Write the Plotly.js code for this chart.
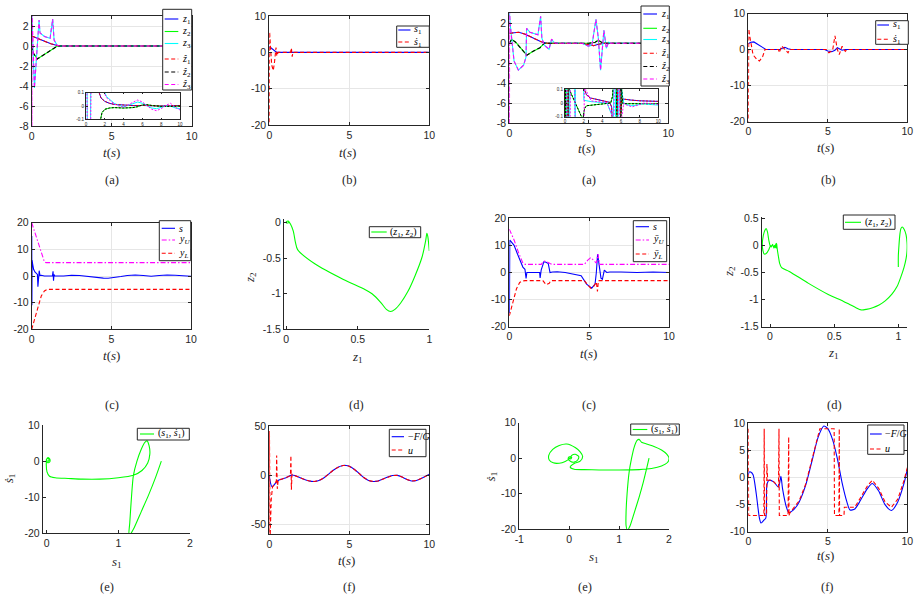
<!DOCTYPE html>
<html>
<head>
<meta charset="utf-8">
<script src="https://cdn.plot.ly/plotly-3.0.1.min.js"></script>
<style>
  html, body { margin: 0; padding: 0; background: #fff; }
  #fig { width: 920px; height: 602px; }
</style>
</head>
<body>
<div id="fig"></div>
<script>
// ===================== data =====================
// tick labels
const tT = [0, 5, 10], tTxt = ['0', '5', '10'];
const yA = [-8, -6, -4, -2, 0, 2], yATxt = ['-8', '-6', '-4', '-2', '0', '2'];
const yB = [-20, -10, 0, 10], yBTxt = ['-20', '-10', '0', '10'];
const yC = [-20, -10, 0, 10, 20], yCTxt = ['-20', '-10', '0', '10', '20'];
const xD = [0, 0.5, 1], xDTxt = ['0', '0.5', '1'];
const yD1 = [-1.5, -1, -0.5, 0], yD1Txt = ['-1.5', '-1', '-0.5', '0'];
const yD2 = [-1.5, -1, -0.5, 0, 0.5], yD2Txt = ['-1.5', '-1', '-0.5', '0', '0.5'];
const xE1 = [0, 1, 2], xE1Txt = ['0', '1', '2'];
const xE2 = [-1, 0, 1, 2], xE2Txt = ['-1', '0', '1', '2'];
const yF1 = [-50, 0, 50], yF1Txt = ['-50', '0', '50'];
const yF2 = [-10, -5, 0, 5, 10], yF2Txt = ['-10', '-5', '0', '5', '10'];
const xIn = [0, 2, 4, 6, 8, 10], xInTxt = ['0', '2', '4', '6', '8', '10'];
const yIn = [-0.1, 0, 0.1], yInTxt = ['-0.1', '0', '0.1'];

// series names (subscripts as small lowered spans)
const sb = function (s) { return '<span style="font-size:70%;baseline-shift:-22%">' + s + '</span>'; };
const namesA = ['<i>z</i>' + sb('1'), '<i>z</i>' + sb('2'), '<i>z</i>' + sb('3'),
                '<i>z\u0302</i>' + sb('1'), '<i>z\u0302</i>' + sb('2'), '<i>z\u0302</i>' + sb('3')];
const namesB = ['<i>s</i>' + sb('1'), '<i>s\u0307</i>' + sb('1')];
const namesC1 = ['<i>s</i>', '<i>y</i>' + sb('<i>U</i>'), '<i>y</i>' + sb('<i>L</i>')];
const namesC2 = ['<i>s</i>', '<i>y\u0304</i>' + sb('<i>U</i>'), '<i>y\u0304</i>' + sb('<i>L</i>')];
const nameD = '(<i>z</i>' + sb('1') + ', <i>z</i>' + sb('2') + ')';
const nameE = '(<i>s</i>' + sb('1') + ', <i>s\u0307</i>' + sb('1') + ')';
const namesF = ['\u2212<i>F</i>/<i>G</i>', '<i>u</i>'];
const titleT = '<i>t</i>(<i>s</i>)';
const titleZ1 = '<i>z</i>' + sb('1'), titleZ2 = '<i>z</i>' + sb('2');
const titleS1 = '<i>s</i>' + sb('1'), titleDS1 = '<i>s\u0307</i>' + sb('1');
const caps = ['(a)', '(b)', '(c)', '(d)', '(e)', '(f)'];

// ---- left figure (a): states z and estimates ----
const a1_t1 = [0, 0.4, 0.8, 1.2, 1.6, 1.8, 10];
const a1_z1 = [1.0, 0.75, 0.45, 0.22, 0.05, 0, 0];
const a1_t2 = [0, 0.1, 0.35, 0.8, 1.2, 1.56, 1.8, 10];
const a1_z2 = [0, -0.7, -1.3, -0.85, -0.45, -0.05, 0, 0];
const a1_t3 = [0, 0.17, 0.46, 0.52, 0.8, 1.15, 1.31, 1.4, 1.6, 1.8, 10];
const a1_z3 = [3.3, -4.2, 2.6, 1.3, 0.95, 0.77, 2.7, 0.6, 0.05, 0, 0];
const a1_th3 = [0, 0.01, 0.02, 0.17, 0.46, 0.52, 0.8, 1.15, 1.31, 1.4, 1.6, 1.8, 10];
const a1_h3 = [3.5, -8.5, 3.5, -4.2, 2.6, 1.3, 0.95, 0.77, 2.7, 0.6, 0.05, 0, 0];
// zoomed view
const i1_t1 = [1.3, 1.6, 2.0, 2.5, 3, 4, 5, 6, 7, 8, 9, 10];
const i1_z1 = [0.12, 0.06, 0.035, 0.02, 0.012, 0.006, 0.003, 0.004, 0.001, 0.0, 0.002, 0.003];
const i1_t2 = [1.5, 1.7, 2.0, 2.5, 3, 4, 5, 5.5, 6, 6.5, 7, 8, 9, 10];
const i1_z2 = [-0.12, -0.05, -0.025, -0.015, -0.012, -0.015, -0.012, -0.005, 0.008, 0.01, 0.004, -0.003, -0.004, 0];
const i1_t3 = [0.12, 0.14, 0.48, 0.5, 1.85, 2.2, 2.6, 3, 3.5, 4, 4.5, 5, 5.5, 6, 6.5, 7, 7.5, 8, 8.5, 9, 9.5, 10];
const i1_z3 = [0.12, -0.12, -0.12, 0.12, 0.12, 0.07, 0.045, 0.02, 0.005, -0.005, 0.005, 0.02, 0.03, 0.02, 0.0, -0.015, -0.02, -0.01, 0.0, 0.0, -0.015, -0.02];
const i1_th3 = [0.1, 0.13, 0.5, 0.53, 1.8, 2.2, 2.6, 3, 3.5, 4, 4.5, 5, 5.5, 6, 6.5, 7, 7.5, 8, 8.5, 9, 9.5, 10];
const i1_h3 = [0.12, -0.12, -0.12, 0.12, 0.12, 0.06, 0.04, 0.015, 0.0, -0.01, 0.01, 0.03, 0.045, 0.03, 0.0, -0.025, -0.035, -0.02, 0.005, 0.02, -0.01, -0.03];

// ---- left figure (b): s1 and its derivative ----
const b1_ts = [0, 0.1, 0.3, 0.46, 10];
const b1_s = [1.6, 1.25, 0.55, 0, 0];
const b1_td = [0, 0.02, 0.06, 0.15, 0.25, 0.33, 0.42, 0.47, 0.55, 1.33, 1.38, 1.43, 1.48, 10];
const b1_d = [-21, 5.6, 2.5, -3.5, -5, -2.5, 1.3, -1, 0, 0, 1.2, -1.2, 0, 0];

// ---- left figure (c): s with bounds ----
const c1_tu = [0, 0.7, 0.8, 0.9, 10];
const c1_u = [20, 6.5, 5.3, 5, 5];
const c1_tl = [0, 0.2, 0.4, 0.6, 0.8, 1.0, 10];
const c1_l = [-20, -15.5, -11, -7.5, -5.6, -5, -5];
const c1_ts = [0, 0.004, 0.012, 0.025, 0.06, 0.12, 0.2, 0.3, 0.36, 0.39, 0.42, 0.47, 0.52, 0.6, 0.8, 1.3, 1.34, 1.37, 1.4, 1.45, 2.0, 2.5, 3.0, 3.5, 4.0, 4.5, 4.8, 5.2, 5.6, 6.0, 6.5, 7.0, 7.5, 8.0, 8.5, 9.0, 9.5, 10];
const c1_s = [0, 15, -11, 6, 4.5, 2.5, 1.5, 1.0, 0.6, -4, -1.5, 2, 0.2, 0.3, 0, 0, 1.8, -1.8, 0.6, 0, 0, 0.3, 0.2, -0.2, -0.5, -0.8, -0.85, -0.6, -0.2, 0.2, 0.4, 0.2, -0.1, 0.2, 0.4, 0.3, 0.1, -0.1];

// ---- left figure (d): phase plot (z1, z2) ----
const d1_z1 = [1.0, 0.99, 0.983, 0.975, 0.95, 0.9, 0.85, 0.8, 0.76, 0.73, 0.70, 0.66, 0.6, 0.55, 0.4, 0.2, 0.08, 0.065, 0.05, 0.03, 0.015, 0.0, 0.005, 0.02];
const d1_z2 = [-0.40, -0.2, -0.15, -0.25, -0.48, -0.75, -0.97, -1.13, -1.22, -1.25, -1.22, -1.12, -1.0, -0.94, -0.8, -0.58, -0.38, -0.28, -0.12, -0.02, 0.02, 0.01, -0.01, 0.0];

// ---- left figure (e): phase plot (s1, ds1) ----
const e1_s = [1.60, 1.52, 1.42, 1.32, 1.22, 1.17, 1.15, 1.16, 1.18, 1.21, 1.26, 1.32, 1.37, 1.40, 1.43, 1.44, 1.41, 1.33, 1.21, 1.0, 0.74, 0.5, 0.3, 0.12, 0.04, 0.005, -0.005, 0.0, 0.02, 0.045, 0.04, 0.01, -0.005, 0.015, 0.035, 0.02, 0.01];
const e1_d = [0, -4.5, -9.5, -14, -18.5, -20.2, -20.3, -17, -11, -4, 0, 3.3, 5.2, 5.6, 4.2, 2, -0.5, -2.6, -3.9, -4.6, -5.0, -5.0, -4.8, -4.6, -4.2, -3, -1, 0.5, 1.0, 0.5, -0.3, -0.4, 0.3, 0.8, 0.4, -0.1, 0.2];

// ---- left figure (f): -F/G and u ----
const f1_tg = [0, 0.05, 0.15, 0.25, 0.4, 0.6, 0.8, 1.0, 1.2, 1.4, 1.6, 1.9, 2.2, 2.5, 2.8, 3.1, 3.4, 3.7, 4.0, 4.3, 4.6, 4.8, 5.0, 5.3, 5.6, 5.9, 6.2, 6.5, 6.8, 7.1, 7.4, 7.7, 8.0, 8.3, 8.6, 8.9, 9.2, 9.5, 9.8, 10];
const f1_g = [0, -6, -11.5, -11, -8, -5, -4, -3, -1.5, 0, -0.5, -2.5, -4.5, -6, -6.5, -5.5, -3, 1, 5, 8, 9.7, 9.8, 9, 6, 2, -2.5, -5.5, -6.5, -6, -4, -2, -0.5, -0.3, -2, -4.5, -6, -5.5, -3.5, -1, 1];
const f1_tu = [0, 0.01, 0.03, 0.05, 0.12, 0.2, 0.3, 0.4, 0.44, 0.46, 0.5, 0.55, 0.6, 0.8, 1.0, 1.2, 1.32, 1.35, 1.38, 1.42, 1.5, 1.6, 1.9, 2.2, 2.5, 2.8, 3.1, 3.4, 3.7, 4.0, 4.3, 4.6, 4.8, 5.0, 5.3, 5.6, 5.9, 6.2, 6.5, 6.8, 7.1, 7.4, 7.7, 8.0, 8.3, 8.6, 8.9, 9.2, 9.5, 9.8, 10];
const f1_u = [-65, 45, 42, -65, -25, -12, -10, -7, -6, 20, -14, -6, -5, -4, -3, -1.5, -0.5, 20, -15, 1, 0, -0.5, -2.5, -4.5, -6, -6.5, -5.5, -3, 1, 5, 8, 9.7, 9.8, 9, 6, 2, -2.5, -5.5, -6.5, -6, -4, -2, -0.5, -0.3, -2, -4.5, -6, -5.5, -3.5, -1, 1];

// ---- right figure (a): states z and estimates ----
const a2_t1 = [0, 0.3, 0.6, 1.0, 1.5, 2.0, 2.4, 4.5, 5.0, 5.3, 5.6, 6.0, 10];
const a2_z1 = [1.0, 1.05, 1.1, 0.9, 0.5, 0.15, 0, 0, -0.15, -0.25, -0.1, 0, 0];
const a2_t2 = [0, 0.15, 0.4, 0.7, 1.1, 1.5, 1.93, 2.2, 2.4, 5.0, 5.4, 5.6, 5.8, 6.1, 10];
const a2_z2 = [0, 0.4, 0.1, -0.5, -1.2, -0.8, -0.45, 0, 0, 0, 0.1, 0.3, 0.1, 0, 0];
const a2_t3 = [0, 0.05, 0.3, 0.57, 0.9, 1.05, 1.09, 1.3, 1.8, 1.97, 2.05, 2.2, 2.5, 2.66, 2.8, 2.9, 4.6, 4.97, 5.2, 5.45, 5.6, 5.74, 5.95, 6.1, 6.25, 6.4, 10];
const a2_z3 = [3.3, 2.0, -1.8, -2.7, -2.2, -1.4, 1.5, 1.1, 0.85, 2.7, 0.5, -0.2, -0.6, 0.4, 0.1, 0, 0, -0.3, -0.2, 2.4, 0.5, -2.7, 1.3, -0.5, 0.1, 0, 0];
const a2_th3 = [0, 0.01, 0.02, 0.05, 0.3, 0.57, 0.9, 1.05, 1.09, 1.3, 1.8, 1.97, 2.05, 2.2, 2.5, 2.66, 2.8, 2.9, 4.6, 4.97, 5.2, 5.45, 5.6, 5.74, 5.95, 6.1, 6.25, 6.4, 10];
const a2_h3 = [3.5, -8.5, 3.5, 2.0, -1.8, -2.7, -2.2, -1.4, 1.5, 1.1, 0.85, 2.7, 0.5, -0.2, -0.6, 0.4, 0.1, 0, 0, -0.3, -0.2, 2.4, 0.5, -2.7, 1.3, -0.5, 0.1, 0, 0];
// zoomed view
const i2_t1 = [0.1, 0.12, 0.35, 0.37, 1.96, 2.3, 2.7, 3.4, 4.1, 4.8, 5.0, 5.05, 5.6, 5.65, 5.9, 5.95, 6.1, 6.5, 7, 8, 9, 10];
const i2_z1 = [0.12, -0.12, -0.12, 0.12, 0.12, 0.06, 0.037, 0.025, 0.017, 0.005, -0.03, -0.12, -0.12, 0.12, 0.12, -0.12, 0.03, 0.025, 0.022, 0.016, 0.013, 0.012];
const i2_t2 = [0.05, 0.07, 0.3, 0.32, 1.9, 2.1, 2.3, 3.4, 4.5, 4.9, 5.1, 5.15, 5.5, 5.55, 6.0, 6.05, 6.2, 7, 8, 9, 10];
const i2_z2 = [0.12, -0.12, -0.12, 0.12, -0.12, -0.04, -0.02, -0.01, -0.005, 0.0, 0.05, 0.12, 0.12, -0.12, -0.12, 0.12, -0.005, -0.006, -0.004, -0.005, -0.004];
const i2_t3 = [0.15, 0.17, 0.5, 0.52, 1.0, 1.02, 1.1, 1.12, 2.0, 2.02, 2.8, 3.5, 4.5, 5.2, 5.22, 5.4, 5.42, 5.7, 5.72, 6.0, 6.3, 6.6, 7.0, 7.5, 8.0, 8.4, 9.0, 9.5, 10];
const i2_z3 = [0.12, -0.12, -0.12, 0.12, 0.12, -0.12, -0.12, 0.12, 0.12, 0.02, 0.01, 0.005, 0.0, -0.12, 0.12, 0.12, -0.12, -0.12, 0.12, 0.12, 0.0, -0.01, -0.02, -0.018, -0.01, -0.005, -0.01, -0.015, -0.015];
const i2_th3 = [0.2, 0.22, 0.55, 0.57, 1.05, 1.07, 2.05, 2.07, 2.8, 3.5, 4.5, 5.25, 5.27, 5.8, 5.82, 6.05, 6.3, 6.6, 7.0, 7.2, 7.6, 8.0, 8.5, 9.0, 9.5, 10];
const i2_h3 = [0.12, -0.12, -0.12, 0.12, 0.12, -0.12, -0.12, 0.12, 0.015, 0.008, 0.003, -0.12, 0.12, 0.12, -0.12, -0.12, 0.0, -0.015, -0.025, -0.028, -0.02, -0.01, 0.0, -0.003, -0.008, -0.01];

// ---- right figure (b): s1 and its derivative ----
const b2_ts = [0, 0.15, 0.35, 0.6, 0.9, 1.1, 2.0, 2.1, 2.3, 2.5, 2.7, 4.8, 5.0, 5.25, 5.45, 5.6, 5.75, 5.9, 6.1, 10];
const b2_s = [1.6, 2.0, 2.1, 1.5, 0.6, 0, 0, 0.3, 0.6, 0.2, 0, 0, -0.4, -0.6, -0.2, 0.5, 0.2, -0.2, 0, 0];
const b2_td = [0, 0.03, 0.08, 0.3, 0.55, 0.7, 0.9, 1.05, 1.9, 1.95, 2.1, 2.3, 2.5, 2.6, 4.9, 5.07, 5.3, 5.45, 5.6, 5.72, 5.9, 6.1, 6.2, 10];
const b2_d = [-21, 5.7, 4, -1.5, -2.8, -3.2, -2, 0, 0, -0.9, 1.0, 0, -0.9, 0, 0, -0.9, -0.3, 3.8, 0, -1.4, 0.9, -0.5, 0, 0];

// ---- right figure (c): s with bounds ----
const c2_tu = [0, 0.3, 0.6, 0.85, 1.0, 2.0, 2.15, 2.35, 2.55, 2.65, 4.7, 4.9, 5.1, 5.3, 5.45, 5.55, 5.65, 10];
const c2_u = [16, 12, 7, 3.5, 3, 3, 4.2, 4.0, 3.3, 3, 3, 4.5, 5.5, 4.5, 3.5, 6.8, 3, 3];
const c2_tl = [0, 0.25, 0.45, 0.65, 0.85, 1.0, 2.1, 2.3, 2.5, 2.6, 4.7, 4.9, 5.1, 5.3, 5.45, 5.52, 5.58, 5.65, 10];
const c2_l = [-16, -10.5, -6, -3.7, -3.1, -3, -3, -4.5, -4.0, -3, -3, -4.5, -5.8, -5.0, -3.5, -7, -3, -3, -3];
const c2_ts = [0, 0.005, 0.01, 0.03, 0.1, 0.3, 0.5, 0.67, 0.85, 0.98, 1.05, 1.1, 1.2, 1.9, 1.93, 2.0, 2.17, 2.3, 2.44, 2.55, 2.7, 3.0, 3.5, 4.0, 4.5, 4.84, 5.0, 5.16, 5.37, 5.45, 5.53, 5.62, 5.74, 5.83, 5.95, 6.1, 6.3, 7, 8, 9, 10];
const c2_s = [0, 12, -15, 12, 11.5, 10, 7, 4.3, 2, 1.2, -2.2, 0, 0, 0, -2, 1, 4, 3.8, 3.3, 0, 0.2, 0.3, 0, -0.5, -1.2, -4.3, -5.2, -5.8, -4.3, 0, 6.8, 2, -2.1, -2.5, 0.9, 0, 0.2, 0.2, 0, 0.2, 0];

// ---- right figure (d): phase plot (z1, z2) ----
const d2_z1 = [1.0, 1.0, 1.005, 1.012, 1.02, 1.03, 1.045, 1.06, 1.068, 1.068, 1.06, 1.045, 1.02, 0.99, 0.95, 0.9, 0.85, 0.8, 0.75, 0.71, 0.67, 0.62, 0.57, 0.45, 0.3, 0.15, 0.09, 0.075, 0.065, 0.057, 0.052, 0.05, 0.048, 0.045, 0.04, 0.035, 0.03, 0.02, 0.01, 0.0, -0.01, -0.02, -0.03, -0.045, -0.058, -0.06, -0.055, -0.045, -0.03, -0.01, 0.0, 0.01];
const d2_z2 = [-0.40, -0.2, 0.0, 0.2, 0.31, 0.34, 0.3, 0.2, 0.05, -0.1, -0.25, -0.4, -0.58, -0.76, -0.9, -1.02, -1.1, -1.15, -1.18, -1.19, -1.15, -1.09, -1.03, -0.9, -0.7, -0.48, -0.41, -0.33, -0.2, -0.08, 0.02, 0.04, -0.05, 0.03, -0.04, 0.0, -0.05, 0.02, -0.03, 0.0, 0.1, 0.25, 0.31, 0.25, 0.1, 0.0, -0.1, -0.16, -0.15, -0.08, -0.02, 0.0];

// ---- right figure (e): phase plot (s1, ds1) ----
const e2_s = [1.6, 1.55, 1.48, 1.4, 1.3, 1.22, 1.17, 1.14, 1.14, 1.16, 1.2, 1.25, 1.3, 1.36, 1.4, 1.45, 1.55, 1.7, 1.85, 1.95, 2.0, 1.97, 1.85, 1.65, 1.4, 1.0, 0.6, 0.3, 0.1, 0.02, 0.1, 0.22, 0.27, 0.22, 0.12, -0.05, -0.2, -0.33, -0.41, -0.4, -0.32, -0.2, -0.08, 0.0, 0.05, 0.12, 0.19, 0.17, 0.1, 0.03, -0.02, 0.0, 0.05, 0.03, 0.0];
const e2_d = [0, -3, -7, -11, -15.5, -19, -20.3, -19, -15, -10, -4, 0, 3, 5, 5.3, 4.5, 4.0, 3.3, 2.3, 1.2, 0, -1.2, -2.2, -2.9, -3.2, -3.3, -3.3, -3.2, -3.1, -2.5, -1.5, -0.8, 0.5, 1.8, 3.0, 4.0, 3.6, 2.5, 0.8, -0.5, -1.3, -1.4, -0.9, -0.2, 0.8, 1.1, 0.5, -0.5, -1.1, -0.9, -0.2, 0.4, 0.3, -0.2, 0.0];

// ---- right figure (f): -F/G and u ----
const f2_tg = [0, 0.05, 0.15, 0.3, 0.5, 0.7, 0.8, 1.0, 1.1, 1.15, 1.2, 1.3, 1.6, 1.9, 2.05, 2.15, 2.4, 2.55, 2.7, 2.9, 3.2, 3.6, 4.0, 4.4, 4.75, 5.0, 5.3, 5.6, 5.9, 6.2, 6.4, 6.7, 7.0, 7.5, 7.8, 8.2, 8.6, 9.0, 9.4, 9.8, 10];
const f2_g = [0.5, 1, 1.0, 0.5, -3, -7.5, -8.4, -7.8, -7.5, -2, -1, -0.5, -0.8, -1.8, 0.2, -2, -5.5, -6.5, -6.3, -5.8, -4.5, -1.5, 3, 7.5, 9.5, 9, 7, 3.5, -1, -4.5, -6, -5.8, -4.5, -2, -1.1, -2.5, -5, -6.1, -4.5, -1, 1.5];
const f2_tu = [0, 0.02, 0.98, 1.0, 1.02, 1.15, 1.17, 1.22, 1.5, 1.9, 1.93, 1.95, 2.5, 2.54, 2.56, 2.62, 2.8, 3.2, 3.6, 4.0, 4.4, 4.5, 5.4, 5.42, 5.7, 5.72, 5.74, 6.02, 6.04, 6.3, 6.7, 7.0, 7.5, 7.8, 8.2, 8.6, 9.0, 9.4, 9.8, 10];
const f2_u = [9, -7, -7, 9, -7, -7, 2.5, -0.5, -0.5, -1.7, 9, -7, -7, 7.5, -7, -6.5, -5.8, -4.3, -1.3, 3.2, 7.7, 9, 9, -7, -7, 9, -7, -7, -5.5, -5.5, -5.5, -4, -1.5, -0.5, -2, -4.5, -5.5, -4, -0.5, 1.8];

// ===================== layout helpers =====================
const W = 920, H = 602;
const INK = '#262626';
const SANS = 'Liberation Sans, Arial, sans-serif';
const SERIF = 'Liberation Serif, Times New Roman, serif';
const DASH = '4px,2.5px';
const DASHDOT = '5px,2px,1.5px,2px';
const DOT = '2px,1.5px';
const C = { blue: '#0000ff', green: '#00ff00', cyan: '#00ffff', red: '#ff0000', black: '#000000', mag: '#ff00ff' };

const traces = [];
const layout = {
  width: W, height: H, margin: { l: 0, r: 0, t: 0, b: 0 },
  paper_bgcolor: '#ffffff', plot_bgcolor: '#ffffff', showlegend: false,
  font: { family: SANS, size: 10.5, color: INK },
  shapes: [], annotations: []
};

let nAx = 0;
function axes(box, xr, yr, xt, xtt, yt, ytt, o) {
  nAx += 1;
  const s = nAx === 1 ? '' : String(nAx);
  const [l, r, t, b] = box;
  const base = {
    tickmode: 'array', ticks: 'inside', ticklen: o.tl || 3, tickwidth: 1, tickcolor: INK,
    showline: true, linecolor: INK, linewidth: 1, mirror: o.box ? 'ticks' : false,
    showgrid: !!o.grid, gridcolor: '#e6e6e6', gridwidth: 1, zeroline: false,
    tickfont: { family: SANS, size: o.fs || 10.5, color: INK }, fixedrange: true
  };
  layout['xaxis' + s] = Object.assign({}, base, { domain: [l / W, r / W], range: xr, anchor: 'y' + s, tickvals: xt, ticktext: xtt });
  layout['yaxis' + s] = Object.assign({}, base, { domain: [1 - b / H, 1 - t / H], range: yr, anchor: 'x' + s, tickvals: yt, ticktext: ytt });
  return s;
}
function line(s, x, y, color, dash, shape, width) {
  traces.push({
    type: 'scatter', mode: 'lines', x: x, y: y, xaxis: 'x' + s, yaxis: 'y' + s,
    line: { color: color, dash: dash || 'solid', width: width || 1.1, shape: shape || 'linear', smoothing: 0.7 },
    hoverinfo: 'skip', showlegend: false
  });
}
function label(x, y, txt, size, o) {
  o = o || {};
  layout.annotations.push({
    xref: 'paper', yref: 'paper', x: x / W, y: 1 - y / H, text: txt, showarrow: false,
    xanchor: o.xa || 'center', yanchor: 'middle', textangle: o.angle || 0,
    font: { family: SERIF, size: size, color: o.color || INK }
  });
}
function legendBox(box, x0, x1, rows) {
  const [l, r, t, b] = box;
  layout.shapes.push({ type: 'rect', xref: 'paper', yref: 'paper', x0: l / W, x1: r / W, y0: 1 - b / H, y1: 1 - t / H,
    fillcolor: '#ffffff', line: { color: INK, width: 1 }, layer: 'above' });
  rows.forEach(function (row) {
    const y = row[0];
    layout.shapes.push({ type: 'line', xref: 'paper', yref: 'paper', x0: x0 / W, x1: x1 / W, y0: 1 - y / H, y1: 1 - y / H,
      line: { color: row[1], width: 1.1, dash: row[2] }, layer: 'above' });
    label(x1 + 1.5, y, row[3], 10, { xa: 'left', color: '#000' });
  });
}

// ===================== panels =====================
// left figure, row 1
const pA1 = axes([31.7, 191.7, 16, 126], [0, 10], [-8, 3], tT, tTxt, yA, yATxt, { box: true, grid: true });
line(pA1, a1_t1, a1_z1, C.blue);
line(pA1, a1_t2, a1_z2, C.green);
line(pA1, a1_t3, a1_z3, C.cyan);
line(pA1, a1_t1, a1_z1, C.red, DASH);
line(pA1, a1_t2, a1_z2, C.black, DASH);
line(pA1, a1_th3, a1_h3, C.mag, DASH);

const pB1 = axes([269.3, 429.3, 16, 125], [0, 10], [-20, 10], tT, tTxt, yB, yBTxt, { box: true, grid: true });
line(pB1, b1_ts, b1_s, C.blue);
line(pB1, b1_td, b1_d, C.red, DASH);

// right figure, row 1
const pA2 = axes([509.3, 668.3, 13.3, 123], [0, 10], [-8, 3], tT, tTxt, yA, yATxt, { box: true, grid: true });
line(pA2, a2_t1, a2_z1, C.blue);
line(pA2, a2_t2, a2_z2, C.green);
line(pA2, a2_t3, a2_z3, C.cyan);
line(pA2, a2_t1, a2_z1, C.red, DASH);
line(pA2, a2_t2, a2_z2, C.black, DASH);
line(pA2, a2_th3, a2_h3, C.mag, DASH);

const pB2 = axes([748.3, 907.3, 13.5, 121.5], [0, 10], [-20, 10], tT, tTxt, yB, yBTxt, { box: true, grid: true });
line(pB2, b2_ts, b2_s, C.blue);
line(pB2, b2_td, b2_d, C.red, DASH);

// row 2
const pC1 = axes([31.7, 191, 222.7, 329.3], [0, 10], [-20, 20], tT, tTxt, yC, yCTxt, { box: true, grid: true });
line(pC1, c1_ts, c1_s, C.blue);
line(pC1, c1_tu, c1_u, C.mag, DASHDOT);
line(pC1, c1_tl, c1_l, C.red, DASH);

const pD1 = axes([284, 429.3, 219, 329.3], [-0.015, 1], [-1.5, 0.05], xD, xDTxt, yD1, yD1Txt, {});
line(pD1, d1_z1, d1_z2, C.green, 'solid', 'spline');

const pC2 = axes([509.3, 669, 218.3, 326.7], [0, 10], [-20, 20], tT, tTxt, yC, yCTxt, { box: true, grid: true });
line(pC2, c2_ts, c2_s, C.blue);
line(pC2, c2_tu, c2_u, C.mag, DASHDOT);
line(pC2, c2_tl, c2_l, C.red, DASH);

const pD2 = axes([761.7, 907.3, 216.7, 326.7], [-0.065, 1.07], [-1.5, 0.53], xD, xDTxt, yD2, yD2Txt, {});
line(pD2, d2_z1, d2_z2, C.green, 'solid', 'spline');

// row 3
const pE1 = axes([42.7, 190, 425, 533.3], [-0.055, 2], [-20, 10], xE1, xE1Txt, yB, yBTxt, {});
line(pE1, e1_s, e1_d, C.green, 'solid', 'spline');

const pF1 = axes([269.3, 429.3, 426, 534], [0, 10], [-60, 50], tT, tTxt, yF1, yF1Txt, { box: true, grid: true });
line(pF1, f1_tg, f1_g, C.blue, 'solid', 'spline');
line(pF1, f1_tu, f1_u, C.red, DASH);

const pE2 = axes([519.3, 669, 422.7, 529.3], [-1, 2], [-20, 10], xE2, xE2Txt, yB, yBTxt, {});
line(pE2, e2_s, e2_d, C.green, 'solid', 'spline');

const pF2 = axes([748.3, 907.3, 423.3, 531.7], [0, 10], [-10, 10], tT, tTxt, yF2, yF2Txt, { box: true, grid: true });
line(pF2, f2_tg, f2_g, C.blue, 'solid', 'spline');
line(pF2, f2_tu, f2_u, C.red, DASH);

// zoomed insets (drawn last so they sit on top)
const pI1 = axes([86, 180, 92.7, 119.3], [0, 10], [-0.1, 0.1], xIn, xInTxt, yIn, yInTxt, { box: true, fs: 4.5, tl: 1.5 });
line(pI1, i1_t1, i1_z1, C.blue, 'solid', 'linear', 1);
line(pI1, i1_t2, i1_z2, C.green, 'solid', 'linear', 1);
line(pI1, i1_t3, i1_z3, C.cyan, 'solid', 'linear', 1);
line(pI1, i1_t1, i1_z1, C.red, DOT, 'linear', 1);
line(pI1, i1_t2, i1_z2, C.black, DOT, 'linear', 1);
line(pI1, i1_th3, i1_h3, C.mag, DOT, 'linear', 1);

const pI2 = axes([565, 658.3, 89.3, 116.7], [0, 10], [-0.1, 0.1], xIn, xInTxt, yIn, yInTxt, { box: true, fs: 4.5, tl: 1.5 });
line(pI2, i2_t1, i2_z1, C.blue, 'solid', 'linear', 1);
line(pI2, i2_t2, i2_z2, C.green, 'solid', 'linear', 1);
line(pI2, i2_t3, i2_z3, C.cyan, 'solid', 'linear', 1);
line(pI2, i2_t1, i2_z1, C.red, DOT, 'linear', 1);
line(pI2, i2_t2, i2_z2, C.black, DOT, 'linear', 1);
line(pI2, i2_th3, i2_h3, C.mag, DOT, 'linear', 1);

// white backing for the insets, stacked above the main plots beneath them
[pI1, pI2].forEach(function (s) {
  layout.shapes.push({ type: 'rect', xref: 'x' + s + ' domain', yref: 'y' + s + ' domain', x0: 0, x1: 1, y0: 0, y1: 1,
    fillcolor: '#ffffff', line: { width: 0 }, layer: 'below' });
});

// ===================== legends =====================
legendBox([162.7, 191.7, 9.3, 90], 164.7, 178.3, [
  [19, C.blue, 'solid', namesA[0]], [31.5, C.green, 'solid', namesA[1]], [43.5, C.cyan, 'solid', namesA[2]],
  [59, C.red, DASH, namesA[3]], [72, C.black, DASH, namesA[4]], [84.5, C.mag, DASH, namesA[5]]]);
legendBox([396.7, 429.3, 26, 47.3], 398.3, 410.5, [
  [30, C.blue, 'solid', namesB[0]], [42, C.red, DASH, namesB[1]]]);
legendBox([641, 669.3, 6, 86], 643.3, 657, [
  [14, C.blue, 'solid', namesA[0]], [28.3, C.green, 'solid', namesA[1]], [39.5, C.cyan, 'solid', namesA[2]],
  [53.3, C.red, DASH, namesA[3]], [66.5, C.black, DASH, namesA[4]], [79, C.mag, DASH, namesA[5]]]);
legendBox([875.7, 908.3, 20.7, 44.3], 877.3, 889, [
  [25, C.blue, 'solid', namesB[0]], [39.3, C.red, DASH, namesB[1]]]);
legendBox([159.3, 190.7, 220.7, 260.7], 161.7, 175, [
  [228.3, C.blue, 'solid', namesC1[0]], [240, C.mag, DASHDOT, namesC1[1]], [253.3, C.red, DASH, namesC1[2]]]);
legendBox([369.3, 420.7, 226.7, 237.7], 371.3, 386.7, [[232, C.green, 'solid', nameD]]);
legendBox([633.3, 666.7, 220.7, 261.7], 635.7, 649, [
  [226.7, C.blue, 'solid', namesC2[0]], [240, C.mag, DASHDOT, namesC2[1]], [254, C.red, DASH, namesC2[2]]]);
legendBox([843.3, 895, 215, 229.3], 845, 861, [[222.3, C.green, 'solid', nameD]]);
legendBox([137.3, 189.3, 428.3, 440], 140, 154, [[434, C.green, 'solid', nameE]]);
legendBox([389.3, 426, 429.3, 456.7], 391.7, 404, [
  [436.7, C.blue, 'solid', namesF[0]], [450, C.red, DASH, namesF[1]]]);
legendBox([630.7, 679.3, 424, 435], 632.7, 647.3, [[429.5, C.green, 'solid', nameE]]);
legendBox([867.7, 904, 425, 454.3], 870, 881.7, [
  [434, C.blue, 'solid', namesF[0]], [449, C.red, DASH, namesF[1]]]);

// ===================== axis titles and captions =====================
label(111, 152, titleT, 13); label(347, 152, titleT, 13); label(586, 148.5, titleT, 13); label(825, 147, titleT, 13);
label(111, 355, titleT, 13); label(588.3, 353.3, titleT, 13);
label(357, 356.7, titleZ1, 13); label(250, 278, titleZ2, 13, { angle: -90 });
label(833.3, 353.3, titleZ1, 13); label(728.3, 271.7, titleZ2, 13, { angle: -90 });
label(116.7, 561.7, titleS1, 13); label(9, 478.3, titleDS1, 13, { angle: -90 });
label(346.7, 560, titleT, 13);
label(594, 556.7, titleS1, 13); label(490.7, 476.7, titleDS1, 13, { angle: -90 });
label(825, 555, titleT, 13);

label(111.7, 180, caps[0], 12.5); label(349.3, 180, caps[1], 12.5); label(589, 180, caps[0], 12.5); label(828, 180, caps[1], 12.5);
label(111.7, 405, caps[2], 12.5); label(356.7, 405, caps[3], 12.5); label(589, 405, caps[2], 12.5); label(834, 405, caps[3], 12.5);
label(107, 587, caps[4], 12.5); label(349.3, 587, caps[5], 12.5); label(585, 587, caps[4], 12.5); label(827, 587, caps[5], 12.5);

Plotly.newPlot('fig', traces, layout, { staticPlot: true, displayModeBar: false });
</script>
</body>
</html>
